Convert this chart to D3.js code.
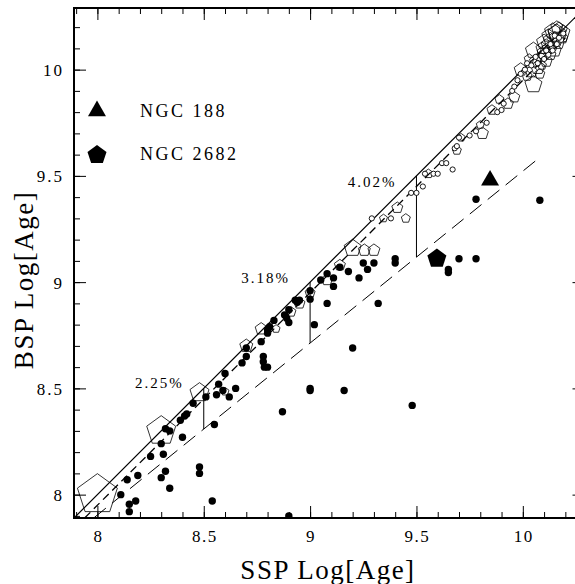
<!DOCTYPE html>
<html>
<head>
<meta charset="utf-8">
<script src="https://cdn.jsdelivr.net/npm/d3@7/dist/d3.min.js"></script>
<style>
  body { margin: 0; background: #fff; }
  svg { display: block; }
  text { font-family: "Liberation Serif", "DejaVu Serif", serif; fill: #000; }
</style>
</head>
<body>
<div id="plot"></div>
<script>
// field stars: SSP age vs BSP age (log)
const filledDots = [
  [8.11, 8.00], [8.14, 8.07], [8.15, 7.955], [8.15, 7.92], [8.18, 7.97], [8.19, 8.09],
  [8.25, 8.18], [8.30, 8.24], [8.31, 8.19], [8.30, 8.08], [8.32, 8.11], [8.34, 8.03],
  [8.48, 8.13], [8.48, 8.10], [8.54, 7.97], [8.90, 7.90], [8.32, 8.31], [8.34, 8.30],
  [8.40, 8.27], [8.39, 8.35], [8.41, 8.37], [8.42, 8.38], [8.45, 8.43], [8.51, 8.46],
  [8.55, 8.33], [8.56, 8.47], [8.57, 8.52], [8.59, 8.49], [8.60, 8.57], [8.62, 8.46],
  [8.65, 8.50], [8.68, 8.62], [8.70, 8.65], [8.70, 8.69], [8.77, 8.72], [8.78, 8.65],
  [8.78, 8.625], [8.785, 8.60], [8.80, 8.60], [8.80, 8.775], [8.81, 8.79], [8.83, 8.82],
  [8.80, 8.76], [8.88, 8.845], [8.89, 8.83], [8.90, 8.81], [8.90, 8.87], [8.93, 8.915],
  [8.94, 8.905], [8.95, 8.915], [9.00, 8.96], [9.00, 8.92], [9.02, 8.80], [9.05, 9.01],
  [9.08, 8.90], [9.08, 9.04], [9.11, 9.02], [9.11, 8.98], [9.14, 9.07], [9.18, 9.05],
  [9.23, 9.02], [9.25, 9.09], [9.27, 9.06], [9.30, 9.09], [9.32, 8.90], [9.20, 8.69],
  [9.78, 9.39], [9.70, 9.11], [9.78, 9.11], [9.65, 9.06], [9.65, 9.045], [9.40, 9.11],
  [9.40, 9.09], [9.00, 8.50], [9.00, 8.49], [9.16, 8.49], [8.87, 8.39], [9.48, 8.42],
  [10.08, 9.385]
];

const openCircles = [
  [9.29, 9.30], [9.38, 9.30], [9.475, 9.42], [9.50, 9.42], [9.53, 9.45], [9.54, 9.51],
  [9.58, 9.51], [9.60, 9.51], [9.62, 9.56], [9.64, 9.56], [9.67, 9.53], [9.68, 9.63],
  [9.69, 9.64], [9.70, 9.68], [9.75, 9.69], [9.78, 9.71], [9.83, 9.75], [9.88, 9.80],
  [9.90, 9.81], [9.91, 9.84], [9.95, 9.90], [9.96, 9.92], [9.975, 9.95], [9.99, 9.98],
  [10.01, 10.00], [10.02, 10.03], [10.04, 10.02], [10.07, 10.03], [10.10, 10.05],
  [10.12, 10.07], [10.14, 10.09], [10.16, 10.12], [10.18, 10.14], [10.13, 10.12],
  [10.11, 10.09], [10.15, 10.16], [10.17, 10.15], [10.19, 10.17], [10.06, 10.06]
];

// clusters: [ssp, bsp, sigma]
const clusters = [
  [8.00, 8.00, 0.200], [8.30, 8.30, 0.145], [8.48, 8.48, 0.095], [8.60, 8.485, 0.04],
  [8.70, 8.70, 0.065], [8.77, 8.78, 0.06], [8.84, 8.78, 0.04], [8.91, 8.86, 0.05],
  [8.95, 8.90, 0.055], [9.00, 8.95, 0.05], [9.08, 9.01, 0.055], [9.14, 9.08, 0.055],
  [9.20, 9.16, 0.085], [9.255, 9.15, 0.06], [9.30, 9.15, 0.06], [9.345, 9.30, 0.04],
  [9.41, 9.35, 0.055], [9.45, 9.30, 0.045], [9.556, 9.51, 0.045], [9.69, 9.62, 0.045],
  [9.71, 9.68, 0.04], [9.80, 9.74, 0.04], [9.81, 9.70, 0.06], [9.855, 9.81, 0.05],
  [9.89, 9.86, 0.045], [9.93, 9.84, 0.055], [9.96, 9.87, 0.055], [9.99, 10.00, 0.065],
  [10.02, 9.97, 0.05], [10.05, 9.93, 0.085], [10.05, 10.09, 0.08], [10.03, 10.05, 0.05],
  [10.06, 10.04, 0.06], [10.08, 10.06, 0.05], [10.09, 10.10, 0.06], [10.10, 10.08, 0.07],
  [10.11, 10.12, 0.05], [10.12, 10.10, 0.06], [10.13, 10.14, 0.07], [10.14, 10.11, 0.05],
  [10.15, 10.15, 0.06], [10.16, 10.13, 0.05], [10.17, 10.17, 0.11], [10.18, 10.16, 0.05],
  [10.19, 10.19, 0.04], [10.08, 9.98, 0.05], [10.10, 10.13, 0.075], [10.12, 10.16, 0.065],
  [10.14, 10.18, 0.08], [10.16, 10.20, 0.06], [10.07, 10.01, 0.07], [10.11, 10.04, 0.06],
  [10.13, 10.07, 0.055], [10.15, 10.09, 0.065], [10.17, 10.12, 0.05], [10.19, 10.15, 0.045],
  [10.04, 9.99, 0.06], [10.09, 10.02, 0.045], [10.16, 10.17, 0.09]
];

const ngc188 = [9.846, 9.479];
const ngc2682 = [9.596, 9.111];
const legendNames = ["NGC 188", "NGC 2682"];

const identityLine = [[7.89, 7.89], [10.29, 10.29]];
const fitLine = [[7.94, 7.89], [10.2, 10.15]];
const offsetLine = [[7.985, 7.892], [10.08, 9.587]];
const diffX = [8.5, 9.0, 9.5];
const diffPct = [2.25, 3.18, 4.02];
const labelDy = [0, 1, 11];

const xMajor = [8, 8.5, 9, 9.5, 10];
const yMajor = [8, 8.5, 9, 9.5, 10];
const minorTicks = d3.range(79, 103).map(d => d / 10);

const W = 575, H = 584;
const margin = {top: 8, left: 74, bottom: 518};

const x = d3.scaleLinear().domain([7.89, 10.29]).range([margin.left, 584.5]);
const y = d3.scaleLinear().domain([7.89, 10.29]).range([margin.bottom, margin.top]);
const rScale = d3.scaleLinear().domain([0, 0.2]).range([0, 21]);

const svg = d3.select("#plot").append("svg")
  .attr("width", W)
  .attr("height", H);

svg.append("clipPath").attr("id", "clip")
  .append("rect")
  .attr("x", x.range()[0]).attr("y", y.range()[1])
  .attr("width", x.range()[1] - x.range()[0])
  .attr("height", y.range()[0] - y.range()[1]);

function pentagon(R) {
  const pts = d3.range(5).map(k => {
    const a = -Math.PI / 2 + k * 2 * Math.PI / 5;
    return [R * Math.cos(a), R * Math.sin(a)];
  });
  return "M" + pts.map(p => p[0].toFixed(2) + "," + p[1].toFixed(2)).join("L") + "Z";
}

const plot = svg.append("g").attr("clip-path", "url(#clip)");
const line = d3.line().x(d => x(d[0])).y(d => y(d[1]));

// lines
plot.append("path").datum(identityLine)
  .attr("d", line).attr("fill", "none").attr("stroke", "#000").attr("stroke-width", 1.2);
plot.append("path").datum(fitLine)
  .attr("d", line).attr("fill", "none").attr("stroke", "#000").attr("stroke-width", 1.3)
  .attr("stroke-dasharray", "8,5");
plot.append("path").datum(offsetLine)
  .attr("d", line).attr("fill", "none").attr("stroke", "#000").attr("stroke-width", 1)
  .attr("stroke-dasharray", "15,8");

// vertical offsets
plot.selectAll(".diff")
  .data(diffX)
  .enter().append("line")
  .attr("x1", d => x(d)).attr("x2", d => x(d))
  .attr("y1", d => y(d))
  .attr("y2", (d, i) => y(d * (1 - diffPct[i] / 100)))
  .attr("stroke", "#000").attr("stroke-width", 1);

svg.selectAll(".pct")
  .data(diffX)
  .enter().append("text")
  .attr("x", d => x(d) - 20)
  .attr("y", (d, i) => y(d) + labelDy[i])
  .attr("text-anchor", "end")
  .attr("font-size", 15)
  .attr("letter-spacing", 2)
  .text((d, i) => diffPct[i].toFixed(2) + "%");

// clusters (open pentagons)
plot.selectAll(".cl")
  .data(clusters)
  .enter().append("path")
  .attr("transform", d => "translate(" + x(d[0]) + "," + y(d[1]) + ")")
  .attr("d", d => pentagon(rScale(d[2])))
  .attr("fill", "none")
  .attr("stroke", "#000")
  .attr("stroke-width", 0.8);

// open circles
plot.selectAll(".oc")
  .data(openCircles)
  .enter().append("circle")
  .attr("cx", d => x(d[0])).attr("cy", d => y(d[1]))
  .attr("r", 2.6)
  .attr("fill", "#fff")
  .attr("stroke", "#000")
  .attr("stroke-width", 0.9);

// filled dots
plot.selectAll(".fd")
  .data(filledDots)
  .enter().append("circle")
  .attr("cx", d => x(d[0])).attr("cy", d => y(d[1]))
  .attr("r", 3.7)
  .attr("fill", "#000");

// NGC 188 and NGC 2682
const tri = d3.symbol(d3.symbolTriangle).size(140);
plot.append("path")
  .attr("transform", "translate(" + x(ngc188[0]) + "," + y(ngc188[1]) + ")")
  .attr("d", tri()).attr("fill", "#000");
plot.append("path")
  .attr("transform", "translate(" + x(ngc2682[0]) + "," + y(ngc2682[1]) + ")")
  .attr("d", pentagon(10)).attr("fill", "#000");

// legend
const legend = svg.append("g");
legend.append("path")
  .attr("transform", "translate(97,111)")
  .attr("d", tri()).attr("fill", "#000");
legend.append("path")
  .attr("transform", "translate(97,155)")
  .attr("d", pentagon(10)).attr("fill", "#000");
legend.selectAll("text")
  .data(legendNames)
  .enter().append("text")
  .attr("x", 140)
  .attr("y", (d, i) => 117 + i * 43)
  .attr("font-size", 18)
  .attr("letter-spacing", 2.5)
  .text(d => d);

// axes
const axes = svg.append("g");
function tickAxis(axisFn, scale, values, len, tr) {
  axes.append("g")
    .attr("transform", tr)
    .call(axisFn(scale).tickValues(values).tickSize(len).tickFormat(""))
    .call(g => g.select(".domain").remove())
    .call(g => g.selectAll("line").attr("stroke", "#000").attr("stroke-width", 1));
}
const bottomT = "translate(0," + margin.bottom + ")";
const topT = "translate(0," + margin.top + ")";
const leftT = "translate(" + margin.left + ",0)";
const rightT = "translate(" + x.range()[1] + ",0)";
tickAxis(d3.axisBottom, x, minorTicks, -6, bottomT);
tickAxis(d3.axisBottom, x, xMajor, -12, bottomT);
tickAxis(d3.axisTop, x, minorTicks, -6, topT);
tickAxis(d3.axisTop, x, xMajor, -12, topT);
tickAxis(d3.axisLeft, y, minorTicks, -6, leftT);
tickAxis(d3.axisLeft, y, yMajor, -12, leftT);
tickAxis(d3.axisRight, y, minorTicks, -6, rightT);
tickAxis(d3.axisRight, y, yMajor, -12, rightT);

axes.append("rect")
  .attr("x", x.range()[0]).attr("y", y.range()[1])
  .attr("width", x.range()[1] - x.range()[0])
  .attr("height", y.range()[0] - y.range()[1])
  .attr("fill", "none").attr("stroke", "#000").attr("stroke-width", 2);

// tick labels
axes.selectAll(".xl")
  .data(xMajor)
  .enter().append("text")
  .attr("x", d => x(d) + 1)
  .attr("y", 542)
  .attr("text-anchor", "middle")
  .attr("font-size", 17)
  .attr("letter-spacing", 1.5)
  .text(d => d3.format("")(d));

axes.selectAll(".yl")
  .data(yMajor)
  .enter().append("text")
  .attr("x", 64)
  .attr("y", d => y(d) + 6.5)
  .attr("text-anchor", "end")
  .attr("font-size", 17)
  .attr("letter-spacing", 2)
  .text(d => d3.format("")(d));

// axis titles
svg.append("text")
  .attr("x", 328)
  .attr("y", 579)
  .attr("text-anchor", "middle")
  .attr("font-size", 27)
  .attr("letter-spacing", 1.5)
  .text("SSP Log[Age]");

svg.append("text")
  .attr("transform", "translate(33,280) rotate(-90)")
  .attr("text-anchor", "middle")
  .attr("font-size", 27)
  .attr("letter-spacing", 1.5)
  .text("BSP Log[Age]");
</script>
</body>
</html>
